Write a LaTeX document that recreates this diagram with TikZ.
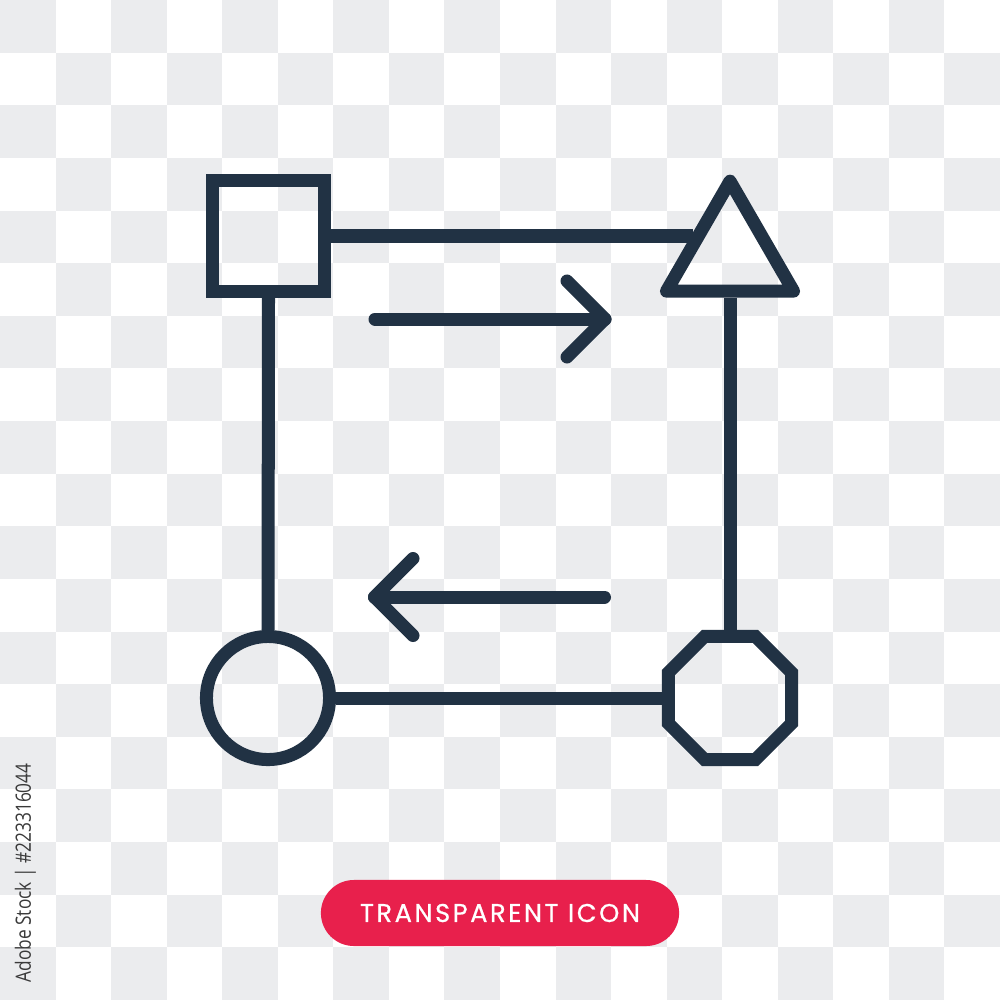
\documentclass[tikz,border=0pt]{standalone}
\usepackage{fontspec}
\setmainfont{Open Sans}
\newfontfamily\pillfont[LetterSpace=10,FakeBold=0.7]{Poppins}
\usetikzlibrary{shapes.geometric,calc}
\definecolor{ink}{HTML}{213244}
\definecolor{checker}{HTML}{EBECEE}
\definecolor{pillred}{HTML}{E8204C}
\definecolor{sidegray}{HTML}{3A3A3A}
\begin{document}
\begin{tikzpicture}[x=0.01cm,y=-0.01cm,
  iconline/.style={draw=ink, line width=0.13cm},
  arrowline/.style={draw=ink, line width=0.13cm, line cap=round, line join=round},
  pillbox/.style={fill=pillred, rounded corners=0.33cm, minimum width=3.58cm,
    minimum height=0.66cm, inner sep=0, text=white,
    font=\pillfont\fontsize{7.3pt}{8pt}\selectfont}]
\useasboundingbox (0,0) rectangle (1000,1000);
\fill[white] (0,0) rectangle (1000,1000);
% checkerboard
\foreach \r in {0,...,18}{
  \foreach \c in {0,...,17}{
    \pgfmathtruncatemacro{\cellparity}{mod(\r+\c,2)}
    \ifnum\cellparity=0
      \fill[checker] ({\c*55.5556},{\r*52.6316}) rectangle ({(\c+1)*55.5556},{(\r+1)*52.6316});
    \fi
  }
}
% shapes
\node[iconline, rectangle, minimum width=1.12cm, minimum height=1.11cm, inner sep=0] (sq) at (268.5,236) {};
\node[iconline, regular polygon, regular polygon sides=3, minimum size=1.466cm, inner sep=0, line join=round] (tri) at (730,254.5) {};
\node[iconline, circle, minimum size=1.23cm, inner sep=0] (circ) at (268,698) {};
\node[iconline, regular polygon, regular polygon sides=8, minimum size=1.331cm, inner sep=0] (oct) at (730,698) {};
\coordinate (trileft) at ($(tri.corner 1)!0.5!(tri.corner 2)$);
% connectors
\draw[iconline] (sq.east) -- (sq.east -| trileft);
\draw[iconline] (sq.south) -- (circ.north);
\draw[iconline] (tri.south) -- (oct.north);
\draw[iconline] (circ.east) -- (oct.west);
% arrows
\coordinate (t1) at (375,319);
\coordinate (t2) at (605,319);
\coordinate (t3) at (567,281);
\coordinate (t4) at (567,357);
\draw[arrowline] (t1) -- (t2);
\draw[arrowline] (t3) -- (t2) -- (t4);
\coordinate (b1) at (604.5,597);
\coordinate (b2) at (374.5,597);
\coordinate (b3) at (413,558.5);
\coordinate (b4) at (413,635.5);
\draw[arrowline] (b1) -- (b2);
\draw[arrowline] (b3) -- (b2) -- (b4);
% label pill
\node[pillbox] (pill) at (500,913) {TRANSPARENT ICON};
% side id
\node[rotate=90, anchor=base west, inner sep=0, text=sidegray,
  font=\fontsize{6pt}{7pt}\selectfont] (stockid) at (31,983)
  {\scalebox{0.82}[1]{Adobe Stock | \#223316044}};
\end{tikzpicture}
\end{document}
